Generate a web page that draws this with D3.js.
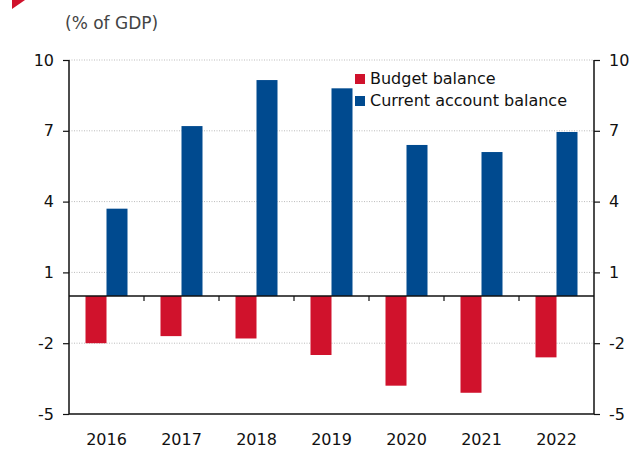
<!DOCTYPE html>
<html>
<head>
<meta charset="utf-8">
<script src="https://cdn.jsdelivr.net/npm/d3@7"></script>
<style>
  body { margin: 0; background: #fff; }
  svg { display: block; font-family: "DejaVu Sans", sans-serif; }
</style>
</head>
<body>
<div id="chart"></div>
<script>
// data (% of GDP)
const years = ["2016", "2017", "2018", "2019", "2020", "2021", "2022"];
const budgetBalance = [-2.0, -1.7, -1.8, -2.5, -3.8, -4.1, -2.6];
const currentAccount = [3.7, 7.2, 9.15, 8.8, 6.4, 6.1, 6.95];
const seriesNames = ["Budget balance", "Current account balance"];
const seriesColors = ["#d0122c", "#004a8f"];
const yTicks = [-5, -2, 1, 4, 7, 10];

const width = 642, height = 450;
const margin = { top: 60, right: 48, bottom: 36, left: 69 };
const font = "DejaVu Sans, sans-serif";

const svg = d3.select("#chart").append("svg")
  .attr("width", width).attr("height", height);

// red corner mark
svg.append("path")
  .attr("d", "M12,0 L25,0 L12,9 Z")
  .attr("fill", "#d0122c");

svg.append("text")
  .attr("x", 65).attr("y", 29)
  .attr("font-size", "17px").attr("fill", "#444")
  .text("(%  of GDP)");

const x = d3.scaleBand()
  .domain(years)
  .range([margin.left, width - margin.right]);

const y = d3.scaleLinear()
  .domain([-5, 10])
  .range([height - margin.bottom, margin.top]);

// dotted gridlines
svg.append("g")
  .selectAll("line")
  .data(yTicks.filter((t) => t > -5))
  .join("line")
  .attr("x1", margin.left).attr("x2", width - margin.right)
  .attr("y1", (d) => y(d)).attr("y2", (d) => y(d))
  .attr("stroke", "#bbb").attr("stroke-width", 1)
  .attr("stroke-dasharray", "1,1.5");

// bars
const barW = 21;
const rows = years.map((yr, i) => ({ yr, vals: [budgetBalance[i], currentAccount[i]] }));

const groups = svg.append("g")
  .selectAll("g")
  .data(rows)
  .join("g");

groups.selectAll("rect")
  .data((d) => d.vals.map((v, k) => ({ yr: d.yr, v, k })))
  .join("rect")
  .attr("x", (d) => x(d.yr) + x.bandwidth() / 2 - barW + d.k * barW)
  .attr("width", barW)
  .attr("y", (d) => y(Math.max(0, d.v)))
  .attr("height", (d) => Math.abs(y(d.v) - y(0)))
  .attr("fill", (d) => seriesColors[d.k]);

// zero line with category ticks
svg.append("line")
  .attr("x1", margin.left).attr("x2", width - margin.right)
  .attr("y1", y(0)).attr("y2", y(0))
  .attr("stroke", "#111").attr("stroke-width", 1.5);

svg.append("g")
  .selectAll("line")
  .data(years.slice(1))
  .join("line")
  .attr("x1", (d) => x(d)).attr("x2", (d) => x(d))
  .attr("y1", y(0)).attr("y2", y(0) + 5)
  .attr("stroke", "#111").attr("stroke-width", 1.2);

// axes
const fmt = (d) => String(d);
const yLeft = d3.axisLeft(y).tickValues(yTicks).tickFormat(fmt).tickSize(6).tickPadding(9);
const yRight = d3.axisRight(y).tickValues(yTicks).tickFormat(fmt).tickSize(6).tickPadding(9);

function styleAxis(g) {
  g.select(".domain").attr("stroke", "#111").attr("stroke-width", 1.5)
    .attr("d", `M0,${y(10)}V${y(-5)}`);
  g.selectAll(".tick line").attr("stroke", "#111").attr("stroke-width", 1.2);
  g.selectAll(".tick text").attr("font-size", "16px").attr("fill", "#111")
    .attr("font-family", font);
}

svg.append("g")
  .attr("transform", `translate(${margin.left},0)`)
  .call(yLeft).call(styleAxis);

svg.append("g")
  .attr("transform", `translate(${width - margin.right},0)`)
  .call(yRight).call(styleAxis);

// bottom line
svg.append("line")
  .attr("x1", margin.left).attr("x2", width - margin.right)
  .attr("y1", y(-5)).attr("y2", y(-5))
  .attr("stroke", "#111").attr("stroke-width", 1.5);

// year labels
svg.append("g")
  .selectAll("text")
  .data(years)
  .join("text")
  .attr("x", (d) => x(d) + x.bandwidth() / 2)
  .attr("y", y(-5) + 31)
  .attr("text-anchor", "middle")
  .attr("font-size", "16px").attr("fill", "#111")
  .text((d) => d);

// legend
const legend = svg.append("g").attr("transform", "translate(355,74)");
seriesNames.forEach((name, k) => {
  legend.append("rect")
    .attr("x", 0).attr("y", k * 22)
    .attr("width", 10).attr("height", 10)
    .attr("fill", seriesColors[k]);
  legend.append("text")
    .attr("x", 15).attr("y", k * 22 + 10)
    .attr("font-size", "16px").attr("fill", "#111")
    .text(name);
});
</script>
</body>
</html>
